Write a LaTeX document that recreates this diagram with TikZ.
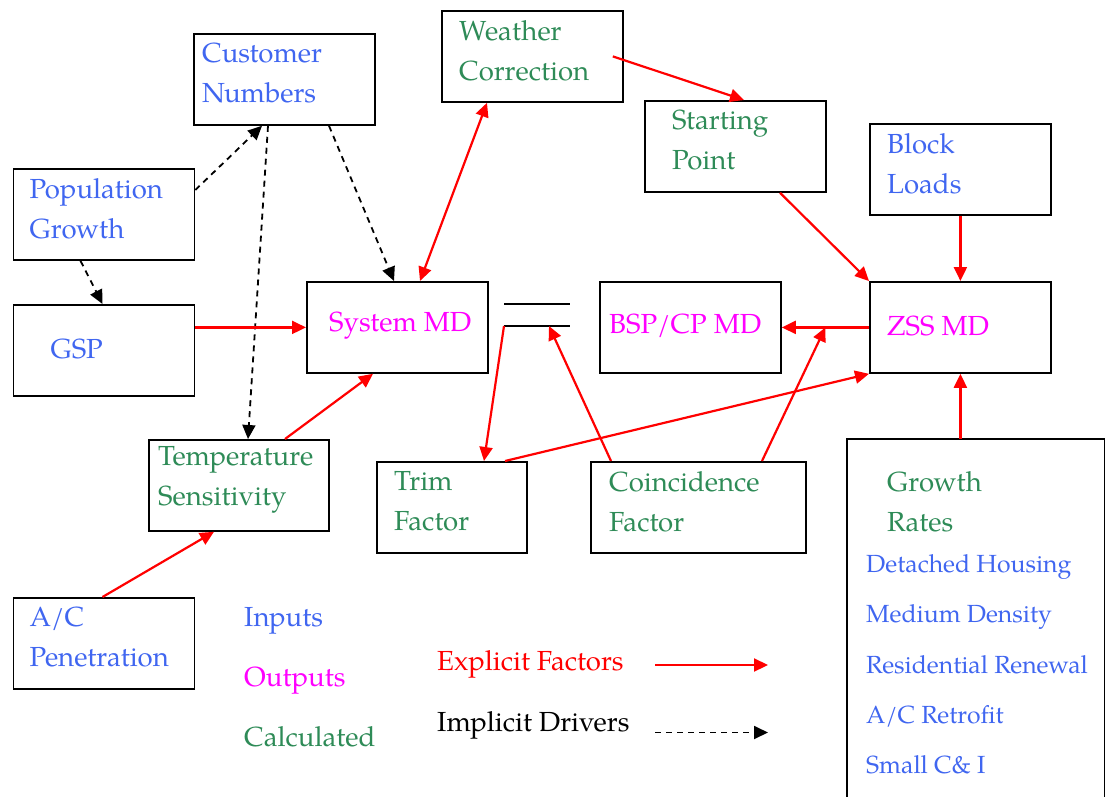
\documentclass[tikz,border=0pt]{standalone}
\usepackage{fontspec}
\setmainfont{TeX Gyre Pagella}
\usetikzlibrary{arrows.meta,positioning,calc}
\definecolor{inblue}{RGB}{64,102,240}
\definecolor{calcgreen}{RGB}{46,139,87}
\definecolor{outmag}{RGB}{255,0,255}
\tikzset{
  box/.style={draw, line width=1.8pt, anchor=north west, minimum width=181pt, minimum height=91pt, inner sep=0pt},
  lbl/.style={align=left, inner sep=0pt, font=\fontsize{27.6}{40}\selectfont},
  input/.style={lbl, text=inblue},
  output/.style={lbl, text=outmag},
  calcd/.style={lbl, text=calcgreen},
  inside/.style={yshift=6pt},
  insideone/.style={yshift=1.5pt},
  explicit/.style={red, line width=2.2pt, ->},
  implicit/.style={black, line width=1.8pt, dash pattern=on 6pt off 5pt, ->},
}
\begin{document}
\begin{tikzpicture}[x=1pt, y=-1pt, >={Triangle[length=14pt,width=13pt]}]
\useasboundingbox (0,0) rectangle (1105,797);

\node[box] (cust) at (193,33) {};
\node[input, inside, right=9pt of cust.west] (custlbl) {Customer\\Numbers};
\node[box] (pop) at (12.5,168) {};
\node[input, inside, right=17pt of pop.west] (poplbl) {Population\\Growth};
\node[box] (gsp) at (12.5,304) {};
\node[input, insideone, right=38pt of gsp.west] (gsplbl) {GSP};
\node[box] (sys) at (306,281) {};
\node[output, insideone, right=23pt of sys.west] (syslbl) {System MD};
\node[box] (wea) at (441,10) {};
\node[calcd, inside, right=18pt of wea.west] (wealbl) {Weather\\Correction};
\node[box] (start) at (644,100) {};
\node[calcd, inside, right=28pt of start.west] (startlbl) {Starting\\Point};
\node[box] (block) at (869,123) {};
\node[input, inside, right=18pt of block.west] (blocklbl) {Block\\Loads};
\node[box] (bsp) at (599,281) {};
\node[output, insideone, right=10pt of bsp.west] (bsplbl) {BSP/CP MD};
\node[box] (zss) at (869,281) {};
\node[output, insideone, right=18pt of zss.west] (zsslbl) {ZSS MD};
\node[box, minimum width=180pt] (temp) at (148,439) {};
\node[calcd, inside, right=10pt of temp.west] (templbl) {Temperature\\Sensitivity};
\node[box, minimum width=150pt] (trim) at (376,461) {};
\node[calcd, inside, right=18pt of trim.west] (trimlbl) {Trim\\Factor};
\node[box, minimum width=215pt] (coin) at (590,461) {};
\node[calcd, inside, right=19pt of coin.west] (coinlbl) {Coincidence\\Factor};
\node[box] (ac) at (12.5,597) {};
\node[input, inside, right=17pt of ac.west] (aclbl) {A/C\\Penetration};

\node[anchor=north west, minimum width=257pt, minimum height=361pt, inner sep=0pt] (grow) at (847,439) {};
\draw[line width=1.8pt] (grow.south west) -- (grow.north west) -- (grow.north east) -- (grow.south east);
\coordinate (growmid) at (grow.north west |- coin.west);
\node[calcd, inside, right=40pt of growmid] (growlbl) {Growth\\Rates};
\foreach \item [count=\i] in {Detached Housing, Medium Density, Residential Renewal, A/C Retrofit, Small C\& I}
  \node[lbl, text=inblue, font=\fontsize{24.8}{30}\selectfont, anchor=base west] (gr\i) at (866,{572.3+50.4*(\i-1)}) {\item};

\coordinate (eqtl) at (504,304);
\coordinate (eqtr) at (570,304);
\coordinate (eqbl) at (504,326);
\coordinate (eqbr) at (570,326);
\coordinate (eqin) at (549,326);
\draw[line width=1.8pt] (eqtl) -- (eqtr) (eqbl) -- (eqbr);

\draw[implicit] ([yshift=-22pt]pop.north east) -- ([xshift=69pt]cust.south west);
\draw[implicit] ([xshift=68pt]pop.south west) -- ([xshift=90pt]gsp.north west);
\draw[implicit] ([xshift=136pt]cust.south west) -- ([xshift=88pt]sys.north west);
\draw[implicit] ([xshift=75pt]cust.south west) -- ([xshift=100pt]temp.north west);

\draw[explicit] (gsp.east |- sys.west) -- (sys.west);
\draw[explicit, <->] ([xshift=114pt]sys.north west) -- ([xshift=46pt]wea.south west);
\draw[explicit] ([xshift=-11pt]wea.east) -- ([xshift=100pt]start.north west);
\draw[explicit] ([xshift=136pt]start.south west) -- (zss.north west);
\draw[explicit] (block.south) -- (zss.north);
\draw[explicit] (zss.west) -- (bsp.east);
\draw[explicit] (zss.south |- grow.north) -- (zss.south);
\draw[explicit] ([xshift=137pt]temp.north west) -- ([xshift=67pt]sys.south west);
\draw[explicit] ([xshift=90pt]ac.north west) -- ([xshift=66pt]temp.south west);
\draw[explicit] (eqbl) -- ([xshift=108pt]trim.north west);
\draw[explicit] ([xshift=21pt]coin.north west) -- (eqin);
\coordinate (jn) at ($(bsp.east)!0.5!(zss.west)$);
\draw[explicit] ([xshift=172pt]coin.north west) -- (jn);
\draw[explicit] ([xshift=129pt]trim.north west) -- (zss.south west);

\node[input, anchor=base west] (leginp) at (244,626.7) {Inputs};
\node[output, anchor=base west] (legout) at (244,686) {Outputs};
\node[calcd, anchor=base west] (legcalc) at (244,746) {Calculated};
\node[lbl, text=red, anchor=base west] (legexp) at (437,670.7) {Explicit Factors};
\node[lbl, anchor=base west] (legimp) at (437,731) {Implicit Drivers};
\coordinate (expa) at (655,665);
\coordinate (expb) at (768,665);
\coordinate (impa) at (655,732.5);
\coordinate (impb) at (768,732.5);
\draw[explicit] (expa) -- (expb);
\draw[implicit] (impa) -- (impb);
\end{tikzpicture}
\end{document}
